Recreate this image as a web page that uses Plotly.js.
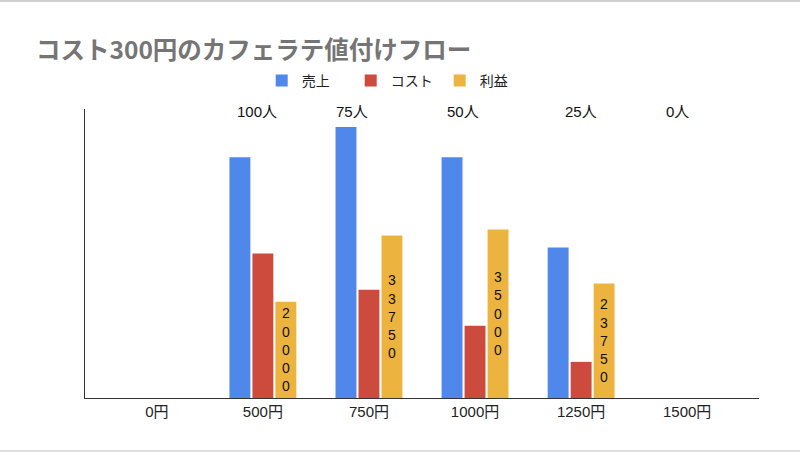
<!DOCTYPE html>
<html>
<head>
<meta charset="utf-8">
<script src="https://cdn.plot.ly/plotly-3.0.1.min.js"></script>
<style>
  html, body { margin: 0; padding: 0; background: #ffffff; }
  #chart { width: 800px; height: 453px; }
</style>
</head>
<body>
<div id="chart"></div>
<script>
// ---- data ----
const categories = ['0円', '500円', '750円', '1000円', '1250円', '1500円'];
const sales  = [0, 50000, 56250, 50000, 31250, 0];   // 売上
const costs  = [0, 30000, 22500, 15000, 7500, 0];    // コスト
const profit = [0, 20000, 33750, 35000, 23750, 0];   // 利益
const customerLabels = ['', '100人', '75人', '50人', '25人', '0人'];
const seriesNames = ['売上', 'コスト', '利益'];

// ---- style ----
const FONT = '"Liberation Sans", Arial, "Noto Sans CJK JP", sans-serif';
const colors = ['#4f87ea', '#cc4b3d', '#ecb43f'];
// small horizontal nudges of the customer labels (layout only)
const labelShift = [0, -6, -17, -12, 0, -10];

const verticalText = profit.map(v => v > 0 ? String(v).split('').join('<br>') : '');

const traces = seriesNames.map((name, k) => ({
  type: 'bar',
  name: name,
  x: categories,
  y: [sales, costs, profit][k],
  marker: { color: colors[k] },
  hoverinfo: 'skip'
}));
Object.assign(traces[2], {
  text: verticalText, textposition: 'inside', insidetextanchor: 'middle',
  textangle: 0, constraintext: 'none',
  textfont: { family: FONT, size: 14, color: '#111111' }
});

const annotations = categories.map((c, i) => ({
  x: c, xref: 'x', y: 0.993, yref: 'paper',
  text: customerLabels[i], showarrow: false,
  xanchor: 'center', yanchor: 'middle', xshift: labelShift[i],
  font: { family: FONT, size: 15, color: '#111111' }
})).filter(a => a.text !== '');

const layout = {
  width: 800, height: 453,
  paper_bgcolor: '#ffffff', plot_bgcolor: '#ffffff',
  margin: { l: 85, r: 41, t: 109, b: 55 },
  font: { family: FONT, size: 13, color: '#222222' },
  title: {
    text: '<b>コスト300円のカフェラテ値付けフロー</b>',
    x: 36 / 800, xref: 'container', xanchor: 'left',
    y: 1 - 50 / 453, yref: 'container', yanchor: 'middle',
    font: { family: '"Noto Sans CJK JP", sans-serif', size: 24.5, color: '#757575' }
  },
  barmode: 'group',
  bargap: 0.35,
  bargroupgap: 0.09,
  showlegend: true,
  legend: {
    orientation: 'h', x: 0.494, xref: 'container', xanchor: 'center',
    y: 1 - 81 / 453, yref: 'container', yanchor: 'middle',
    font: { family: '"Noto Sans CJK JP", sans-serif', size: 14, color: '#222222' },
    itemwidth: 30, entrywidth: 44, traceorder: 'normal'
  },
  xaxis: {
    type: 'category',
    range: [-0.677, 5.677],
    showline: true, linecolor: '#333333', linewidth: 1,
    showgrid: false, zeroline: false, ticks: '',
    tickfont: { family: FONT, size: 15, color: '#222222' },
    fixedrange: true
  },
  yaxis: {
    range: [0, 60000],
    showline: true, linecolor: '#333333', linewidth: 1,
    showgrid: false, zeroline: false, showticklabels: false, ticks: '',
    fixedrange: true
  },
  annotations: annotations,
  shapes: [
    { type: 'line', xref: 'paper', yref: 'paper', x0: -85/674, x1: 1 + 41/674,
      y0: 1 + 108/289, y1: 1 + 108/289, line: { color: '#d0d0d0', width: 2 } },
    { type: 'line', xref: 'paper', yref: 'paper', x0: -85/674, x1: 1 + 41/674,
      y0: -53/289, y1: -53/289, line: { color: '#e0e0e0', width: 2 } }
  ]
};

Plotly.newPlot('chart', traces, layout, { displayModeBar: false, staticPlot: true });
</script>
</body>
</html>
